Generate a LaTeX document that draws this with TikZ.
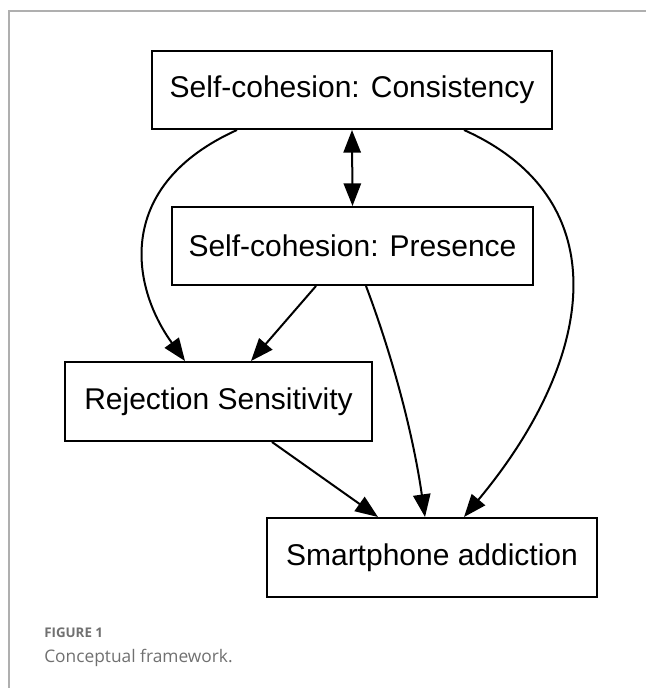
\documentclass[tikz,border=0pt]{standalone}
\usepackage{fontspec}
\setmainfont{Liberation Sans}
\newfontfamily\capfont{Open Sans}
\usetikzlibrary{calc}
\usetikzlibrary{arrows.meta}
\definecolor{capgray}{RGB}{112,112,112}
\definecolor{framegray}{RGB}{175,175,175}
\tikzset{
  varbox/.style={draw,line width=1.5pt,inner sep=0pt,font=\fontsize{22.5}{27}\selectfont},
  arr/.style={line width=1.5pt,-{Triangle[length=17pt,width=13pt]}},
  dblarr/.style={line width=1.5pt,{Triangle[length=17pt,width=13pt]}-{Triangle[length=17pt,width=13pt]}}
}
\begin{document}
\begin{tikzpicture}[x=0.75pt,y=-0.75pt]
	\useasboundingbox (0,0) rectangle (646,688);
	\draw [line width =1pt,framegray] (9,688) -- (9,11) -- (646,11);
	\node [varbox,minimum width=300pt,minimum height=58.5pt] (cons) at (352,90) {Self-cohesion: Consistency};
	\node [varbox,minimum width=270.75pt,minimum height=58.5pt] (pres) at (352.5,246) {Self-cohesion: Presence};
	\node [varbox,minimum width=230.25pt,minimum height=59.25pt] (rej) at (218.5,401.5) {Rejection Sensitivity};
	\node [varbox,minimum width=247.5pt,minimum height=59.25pt] (smart) at (432,557.5) {Smartphone addiction};
	\draw [dblarr] (cons.south) -- (pres.north);
	\draw [arr] ($(cons.south west)+(86,0)$) .. controls (115,185) and (130,285) .. ($(rej.north west)+(121,0)$);
	\draw [arr] ($(cons.south west)+(313,0)$) .. controls (620,200) and (595,360) .. ($(smart.north west)+(198,0)$);
	\draw [arr] ($(pres.south west)+(145,0)$) -- ($(rej.north west)+(187,0)$);
	\draw [arr] ($(pres.south west)+(195,0)$) .. controls (395,363) and (414,440) .. ($(smart.north west)+(159,0)$);
	\draw [arr] ($(rej.south west)+(208,0)$) -- ($(smart.north west)+(112,0)$);
	\node [anchor=base west,inner sep=0pt,text=capgray,font=\capfont\bfseries\fontsize{10}{12}\selectfont] (figlabel) at (44,637) {FIGURE 1};
	\node [anchor=base west,inner sep=0pt,text=capgray,font=\capfont\fontsize{13}{15}\selectfont] (figcaption) at (44,662) {Conceptual framework.};
\end{tikzpicture}
\end{document}
